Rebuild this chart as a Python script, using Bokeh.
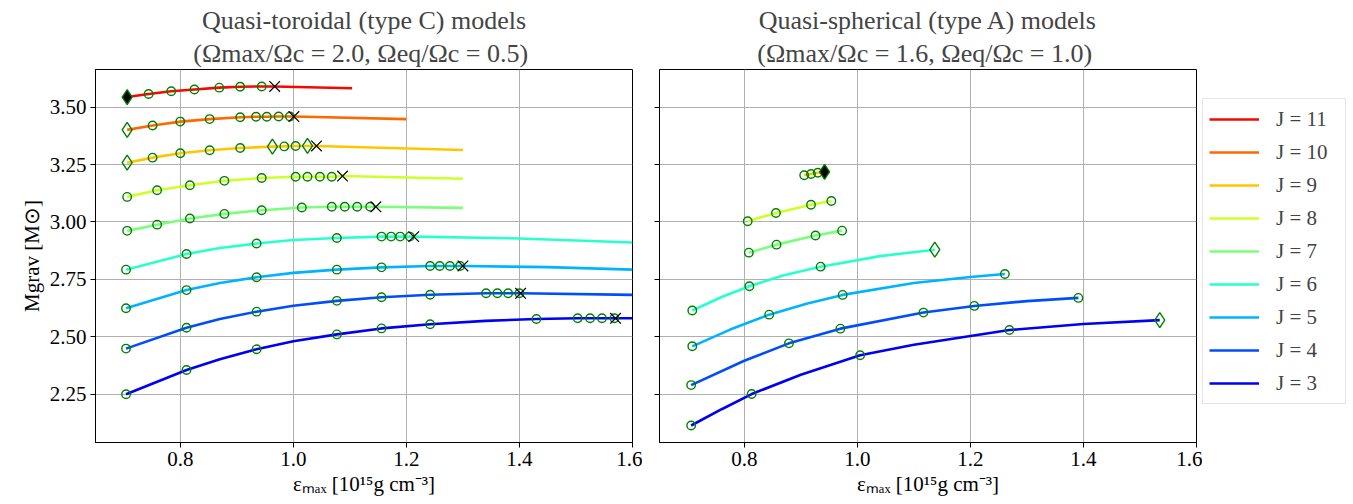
from bokeh.plotting import figure
from bokeh.models import Range1d, FixedTicker, NumeralTickFormatter, Legend, LegendItem, Title
from bokeh.layouts import row
from bokeh.embed import file_html
from bokeh.resources import INLINE

FONT = "Liberation Serif"

# ---------------- data ----------------
J_list = [11, 10, 9, 8, 7, 6, 5, 4, 3]
colors = ["#f30900", "#ff6800", "#ffc600", "#ceff29", "#7bff7b",
          "#29ffce", "#00b3ff", "#004dff", "#0000f3"]

x_ticks = [0.8, 1.0, 1.2, 1.4, 1.6]
y_ticks = [2.25, 2.50, 2.75, 3.00, 3.25, 3.50]

# Left panel: quasi-toroidal (type C)
# c = circles, od = open diamonds, fd = filled diamonds, x = crosses,
# k = extra points, end = where the curve stops
C11_cx = [0.744, 0.784, 0.825, 0.869, 0.906, 0.944]
C11_cy = [3.557, 3.569, 3.577, 3.585, 3.589, 3.590]
C11_fdx = [0.706]; C11_fdy = [3.544]
C11_xx = [0.967]; C11_xy = [3.590]
C11_end = (1.104, 3.582)

C10_cx = [0.751, 0.800, 0.852, 0.906, 0.934, 0.953, 0.974, 0.994]
C10_cy = [3.420, 3.437, 3.448, 3.456, 3.458, 3.458, 3.459, 3.459]
C10_odx = [0.706]; C10_ody = [3.401]
C10_xx = [1.001]; C10_xy = [3.459]
C10_end = (1.200, 3.448)

C9_cx = [0.751, 0.800, 0.852, 0.906, 0.984, 1.004]
C9_cy = [3.280, 3.299, 3.312, 3.322, 3.329, 3.331]
C9_odx = [0.706, 0.963, 1.025]; C9_ody = [3.258, 3.328, 3.331]
C9_xx = [1.041]; C9_xy = [3.331]
C9_end = (1.300, 3.313)

C8_cx = [0.706, 0.759, 0.817, 0.878, 0.944, 1.004, 1.025, 1.047, 1.068]
C8_cy = [3.109, 3.138, 3.160, 3.179, 3.191, 3.197, 3.197, 3.197, 3.197]
C8_xx = [1.087]; C8_xy = [3.200]
C8_end = (1.300, 3.188)

C7_cx = [0.706, 0.759, 0.817, 0.878, 0.944, 1.015, 1.068, 1.091, 1.113, 1.136]
C7_cy = [2.961, 2.988, 3.015, 3.035, 3.051, 3.063, 3.066, 3.066, 3.066, 3.066]
C7_xx = [1.146]; C7_xy = [3.066]
C7_end = (1.300, 3.061)

C6_cx = [0.704, 0.811, 0.935, 1.077, 1.156, 1.173, 1.189, 1.206]
C6_cy = [2.792, 2.860, 2.906, 2.930, 2.936, 2.936, 2.936, 2.936]
C6_xx = [1.213]; C6_xy = [2.936]
C6_kx = [0.870, 1.000, 1.400]; C6_ky = [2.886, 2.921, 2.928]
C6_end = (1.600, 2.910)

C5_cx = [0.704, 0.811, 0.935, 1.077, 1.156, 1.242, 1.259, 1.277, 1.295]
C5_cy = [2.624, 2.703, 2.759, 2.792, 2.802, 2.808, 2.808, 2.808, 2.808]
C5_xx = [1.300]; C5_xy = [2.808]
C5_kx = [0.870, 1.000, 1.450]; C5_ky = [2.734, 2.778, 2.803]
C5_end = (1.600, 2.792)

C4_cx = [0.704, 0.811, 0.935, 1.077, 1.156, 1.242, 1.341, 1.361, 1.380, 1.400]
C4_cy = [2.448, 2.539, 2.609, 2.656, 2.672, 2.683, 2.689, 2.689, 2.689, 2.689]
C4_xx = [1.402]; C4_xy = [2.689]
C4_kx = [0.870, 1.000]; C4_ky = [2.577, 2.635]
C4_end = (1.600, 2.682)

C3_cx = [0.704, 0.811, 0.935, 1.077, 1.156, 1.242, 1.430, 1.503, 1.525, 1.546, 1.568]
C3_cy = [2.249, 2.355, 2.445, 2.510, 2.536, 2.554, 2.577, 2.580, 2.580, 2.580, 2.580]
C3_xx = [1.570]; C3_xy = [2.580]
C3_kx = [0.870, 1.000, 1.340]; C3_ky = [2.402, 2.480, 2.569]
C3_end = (1.600, 2.580)

# Right panel: quasi-spherical (type A)
A9_cx = [0.906, 0.918, 0.930]
A9_cy = [3.203, 3.209, 3.214]
A9_fdx = [0.942]; A9_fdy = [3.218]

A8_cx = [0.806, 0.856, 0.918, 0.954]
A8_cy = [3.003, 3.039, 3.075, 3.091]

A7_cx = [0.808, 0.857, 0.926, 0.973]
A7_cy = [2.866, 2.901, 2.941, 2.962]

A6_cx = [0.708, 0.809, 0.935]
A6_cy = [2.614, 2.720, 2.805]
A6_odx = [1.137]; A6_ody = [2.879]
A6_kx = [0.760, 0.870, 1.040]; A6_ky = [2.673, 2.768, 2.851]

A5_cx = [0.708, 0.844, 0.974, 1.261]
A5_cy = [2.458, 2.596, 2.682, 2.773]
A5_kx = [0.775, 0.910, 1.100, 1.200]; A5_ky = [2.531, 2.643, 2.734, 2.760]

A4_cx = [0.706, 0.879, 0.970, 1.117, 1.207, 1.391]
A4_cy = [2.289, 2.471, 2.535, 2.605, 2.634, 2.669]
A4_kx = [0.800, 1.300]; A4_ky = [2.395, 2.655]

A3_cx = [0.706, 0.813, 1.005, 1.269]
A3_cy = [2.113, 2.250, 2.419, 2.529]
A3_odx = [1.535]; A3_ody = [2.572]
A3_kx = [0.760, 0.900, 1.100, 1.400]; A3_ky = [2.184, 2.334, 2.465, 2.555]

left_series = {
    11: dict(c=(C11_cx, C11_cy), fd=(C11_fdx, C11_fdy), x=(C11_xx, C11_xy), end=C11_end),
    10: dict(c=(C10_cx, C10_cy), od=(C10_odx, C10_ody), x=(C10_xx, C10_xy), end=C10_end),
    9: dict(c=(C9_cx, C9_cy), od=(C9_odx, C9_ody), x=(C9_xx, C9_xy), end=C9_end),
    8: dict(c=(C8_cx, C8_cy), x=(C8_xx, C8_xy), end=C8_end),
    7: dict(c=(C7_cx, C7_cy), x=(C7_xx, C7_xy), end=C7_end),
    6: dict(c=(C6_cx, C6_cy), x=(C6_xx, C6_xy), k=(C6_kx, C6_ky), end=C6_end),
    5: dict(c=(C5_cx, C5_cy), x=(C5_xx, C5_xy), k=(C5_kx, C5_ky), end=C5_end),
    4: dict(c=(C4_cx, C4_cy), x=(C4_xx, C4_xy), k=(C4_kx, C4_ky), end=C4_end),
    3: dict(c=(C3_cx, C3_cy), x=(C3_xx, C3_xy), k=(C3_kx, C3_ky), end=C3_end),
}
right_series = {
    9: dict(c=(A9_cx, A9_cy), fd=(A9_fdx, A9_fdy)),
    8: dict(c=(A8_cx, A8_cy)),
    7: dict(c=(A7_cx, A7_cy)),
    6: dict(c=(A6_cx, A6_cy), od=(A6_odx, A6_ody), k=(A6_kx, A6_ky)),
    5: dict(c=(A5_cx, A5_cy), k=(A5_kx, A5_ky)),
    4: dict(c=(A4_cx, A4_cy), k=(A4_kx, A4_ky)),
    3: dict(c=(A3_cx, A3_cy), od=(A3_odx, A3_ody), k=(A3_kx, A3_ky)),
}

XR = (0.65, 1.6)
YR = (2.039, 3.664)


def curve_points(s):
    pts = list(zip(*s["c"]))
    for key in ("od", "fd", "x", "k"):
        if key in s:
            pts += list(zip(*s[key]))
    if "end" in s:
        pts.append(s["end"])
    pts = sorted(set(pts))
    return [q[0] for q in pts], [q[1] for q in pts]


def make_fig(width, left, right, show_ylabels, line1, line2):
    p = figure(width=width, height=504, x_range=Range1d(*XR), y_range=Range1d(*YR),
               output_backend="svg", toolbar_location=None,
               min_border_left=left, min_border_right=right,
               min_border_top=69, min_border_bottom=62)
    p.outline_line_color = "black"
    p.outline_line_width = 1
    p.background_fill_color = "white"
    p.border_fill_color = "white"
    p.xaxis.ticker = FixedTicker(ticks=x_ticks)
    p.yaxis.ticker = FixedTicker(ticks=y_ticks)
    p.xaxis.formatter = NumeralTickFormatter(format="0.0")
    p.yaxis.formatter = NumeralTickFormatter(format="0.00")
    for ax in (p.xaxis[0], p.yaxis[0]):
        ax.major_tick_in = 0
        ax.major_tick_out = 5
        ax.minor_tick_line_color = None
        ax.axis_line_color = "black"
        ax.major_tick_line_color = "black"
        ax.major_label_text_font = FONT
        ax.major_label_text_font_size = "21px"
        ax.major_label_text_color = "black"
        ax.axis_label_text_font = FONT
        ax.axis_label_text_font_size = "21px"
        ax.axis_label_text_font_style = "normal"
        ax.axis_label_text_color = "black"
        ax.major_label_standoff = 4
        ax.axis_label_standoff = 3
    p.xaxis.axis_label = "εₘₐₓ [10¹⁵g cm⁻³]"
    if show_ylabels:
        p.yaxis.axis_label = "Mgrav [M⊙]"
    else:
        p.yaxis.major_label_overrides = {t: "" for t in y_ticks}
        p.yaxis.major_label_standoff = 0
    p.grid.grid_line_color = "#b0b0b0"
    p.grid.grid_line_width = 1
    p.add_layout(Title(text=line2, align="center", text_font=FONT, text_font_size="26px",
                       text_font_style="normal", standoff=3), "above")
    p.add_layout(Title(text=line1, align="center", text_font=FONT, text_font_size="26px",
                       text_font_style="normal", standoff=1), "above")
    return p


def draw(p, series):
    for J, col in zip(J_list, colors):
        if J not in series:
            continue
        xs, ys = curve_points(series[J])
        p.line(xs, ys, line_color=col, line_width=2.6, line_join="round")
    for J in J_list:
        if J not in series:
            continue
        s = series[J]
        p.scatter(s["c"][0], s["c"][1], marker="circle", size=8.5, fill_color=None,
                  line_color="green", line_width=1.4)
        if "od" in s:
            p.scatter(s["od"][0], s["od"][1], marker="diamond", size=15, fill_color=None,
                      line_color="green", line_width=1.4)
        if "fd" in s:
            p.scatter(s["fd"][0], s["fd"][1], marker="diamond", size=15, fill_color="black",
                      line_color="green", line_width=1.4)
        if "x" in s:
            p.scatter(s["x"][0], s["x"][1], marker="x", size=15, line_color="black",
                      line_width=1.2)


p1 = make_fig(642, 95, 10, True, "Quasi-toroidal (type C) models",
              "(Ωmax/Ωc = 2.0,  Ωeq/Ωc = 0.5)")
p2 = make_fig(560, 17, 6, False, "Quasi-spherical (type A) models",
              "(Ωmax/Ωc = 1.6,  Ωeq/Ωc = 1.0)")
draw(p1, left_series)
draw(p2, right_series)

# legend panel (its frame lines up with the two plot frames)
p3 = figure(width=151, height=504, x_range=Range1d(0, 0.1), y_range=Range1d(0, 0.1),
            output_backend="svg", toolbar_location=None,
            min_border_left=0, min_border_right=0, min_border_top=69, min_border_bottom=62)
p3.axis.visible = False
p3.grid.visible = False
p3.outline_line_color = None
p3.background_fill_color = "white"
p3.border_fill_color = "white"
items = []
for J, col in zip(J_list, colors):
    xs, ys = curve_points(left_series[J])   # lies outside p3's ranges: legend swatch only
    r = p3.line(xs, ys, line_color=col, line_width=2.6)
    items.append(LegendItem(label=f"J = {J}", renderers=[r]))
legend = Legend(items=items, location=(0, 38), margin=0, padding=6, spacing=5,
                label_height=28, glyph_height=28, glyph_width=50, label_standoff=17,
                label_width=63,
                label_text_font=FONT, label_text_font_size="21px",
                border_line_color="#cccccc", border_line_width=1,
                background_fill_color="white", background_fill_alpha=0.9)
p3.add_layout(legend)

layout = row(p1, p2, p3)
open("out.html", "w").write(file_html(layout, INLINE))
